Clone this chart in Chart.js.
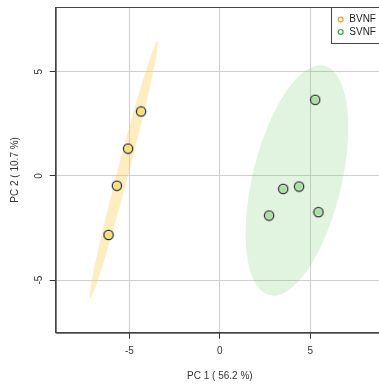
<!DOCTYPE html>
<html>
<head>
<meta charset="utf-8">
<script src="https://cdn.jsdelivr.net/npm/chart.js@4"></script>
<style>
  html, body { margin: 0; padding: 0; overflow: hidden; background: #fff; }
  #wrap { width: 400px; height: 385px; }
</style>
</head>
<body>
<div id="wrap"><canvas id="pca"></canvas></div>
<script>
const groups = ['BVNF', 'SVNF'];
const bvnfPC1 = [-4.35, -5.07, -5.69, -6.15];
const bvnfPC2 = [3.09, 1.31, -0.47, -2.83];
const svnfPC1 = [5.27, 3.50, 4.38, 2.72, 5.45];
const svnfPC2 = [3.65, -0.62, -0.51, -1.90, -1.74];

// confidence ellipses: centre, major half-axis, minor half-axis (data units)
const bvnfEllipse = { c: [-5.31, 0.30], u: [1.86, 6.155], v: [0.305, -0.070] };
const svnfEllipse = { c: [4.26, -0.22], u: [1.52, 5.50], v: [-2.39, 0.50] };

const xTitle = 'PC 1 ( 56.2 %)';
const yTitle = 'PC 2 ( 10.7 %)';

const FONT = '"Liberation Sans", Arial, sans-serif';
const ellipseFill = ['rgba(255,204,80,0.35)', 'rgba(100,200,100,0.2)'];
const pointFill = ['#ffe066', '#a3e39c'];
const legendColor = ['#e5a22a', '#3aa040'];

const toPoints = (xs, ys) => xs.map((x, i) => ({ x, y: ys[i] }));

// ringed marker: dark outline, thin white gap, coloured core
function marker(fill) {
  const c = document.createElement('canvas');
  c.width = 12; c.height = 12;
  const g = c.getContext('2d');
  g.beginPath(); g.arc(6, 6, 4.6, 0, Math.PI * 2);
  g.fillStyle = '#fff'; g.fill();
  g.lineWidth = 1.3; g.strokeStyle = '#222'; g.stroke();
  g.beginPath(); g.arc(6, 6, 3.3, 0, Math.PI * 2);
  g.fillStyle = fill; g.fill();
  return c;
}

const ellipsePlugin = {
  id: 'ellipses',
  beforeDatasetsDraw(chart) {
    const { ctx, chartArea, scales: { x, y } } = chart;
    ctx.save();
    ctx.beginPath();
    ctx.rect(chartArea.left, chartArea.top, chartArea.right - chartArea.left, chartArea.bottom - chartArea.top);
    ctx.clip();
    [bvnfEllipse, svnfEllipse].forEach((e, k) => {
      ctx.beginPath();
      for (let i = 0; i <= 120; i++) {
        const t = i / 120 * Math.PI * 2;
        const dx = e.c[0] + e.u[0] * Math.cos(t) + e.v[0] * Math.sin(t);
        const dy = e.c[1] + e.u[1] * Math.cos(t) + e.v[1] * Math.sin(t);
        const px = x.getPixelForValue(dx), py = y.getPixelForValue(dy);
        i ? ctx.lineTo(px, py) : ctx.moveTo(px, py);
      }
      ctx.closePath();
      ctx.fillStyle = ellipseFill[k];
      ctx.fill();
    });
    ctx.restore();
  },
  afterDraw(chart) {
    const { ctx, chartArea: a, scales: { y } } = chart;
    ctx.save();
    // box round the plot
    ctx.strokeStyle = '#444';
    ctx.lineWidth = 1;
    ctx.strokeRect(a.left + 0.5, a.top + 0.5, a.right - a.left, a.bottom - a.top);

    // rotated y tick labels, R style
    ctx.fillStyle = '#333';
    ctx.font = '10px ' + FONT;
    ctx.textAlign = 'center';
    ctx.textBaseline = 'middle';
    y.ticks.forEach(t => {
      ctx.save();
      ctx.translate(39.5, y.getPixelForValue(t.value));
      ctx.rotate(-Math.PI / 2);
      ctx.fillText(String(t.value), 0, 0);
      ctx.restore();
    });
    ctx.save();
    ctx.translate(15, (a.top + a.bottom) / 2);
    ctx.rotate(-Math.PI / 2);
    ctx.fillText(yTitle, 0, 0);
    ctx.restore();

    // legend
    const lx = 331.5, ly = a.top + 0.5;
    ctx.fillStyle = '#fff';
    ctx.fillRect(lx, ly, a.right - lx, 36);
    ctx.strokeStyle = '#444';
    ctx.strokeRect(lx, ly, a.right - lx, 36);
    ctx.textAlign = 'left';
    groups.forEach((g, i) => {
      const cy = ly + 12 + i * 12.4;
      ctx.beginPath();
      ctx.arc(lx + 9.2, cy, 2.4, 0, Math.PI * 2);
      ctx.strokeStyle = legendColor[i];
      ctx.lineWidth = 1.2;
      ctx.stroke();
      ctx.fillStyle = '#222';
      ctx.fillText(g, lx + 17.8, cy);
    });
    ctx.restore();
  }
};

new Chart(document.getElementById('pca'), {
  type: 'scatter',
  data: {
    datasets: [
      { label: groups[0], data: toPoints(bvnfPC1, bvnfPC2), pointStyle: marker(pointFill[0]) },
      { label: groups[1], data: toPoints(svnfPC1, svnfPC2), pointStyle: marker(pointFill[1]) }
    ]
  },
  options: {
    responsive: true,
    maintainAspectRatio: false,
    animation: false,
    layout: { padding: { top: 7, right: 16, left: 0, bottom: 0 } },
    plugins: { legend: { display: false }, tooltip: { enabled: false } },
    scales: {
      x: {
        min: -9.07, max: 9.07,
        afterFit: s => { s.height = 52.3; },
        ticks: { stepSize: 5, includeBounds: false, color: '#333', padding: 7,
          font: { family: FONT, size: 10 } },
        grid: { color: '#cfcfcf', tickColor: '#333', tickLength: 6 },
        border: { color: '#444' },
        title: { display: true, text: xTitle, color: '#333', padding: { top: 0, bottom: 3 },
          font: { family: FONT, size: 10 } }
      },
      y: {
        min: -7.52, max: 8.1,
        afterFit: s => { s.width = 55.7; },
        ticks: { stepSize: 5, includeBounds: false, display: false },
        grid: { color: '#cfcfcf', tickColor: '#333', tickLength: 6 },
        border: { color: '#444' }
      }
    }
  },
  plugins: [ellipsePlugin]
});
</script>
</body>
</html>
